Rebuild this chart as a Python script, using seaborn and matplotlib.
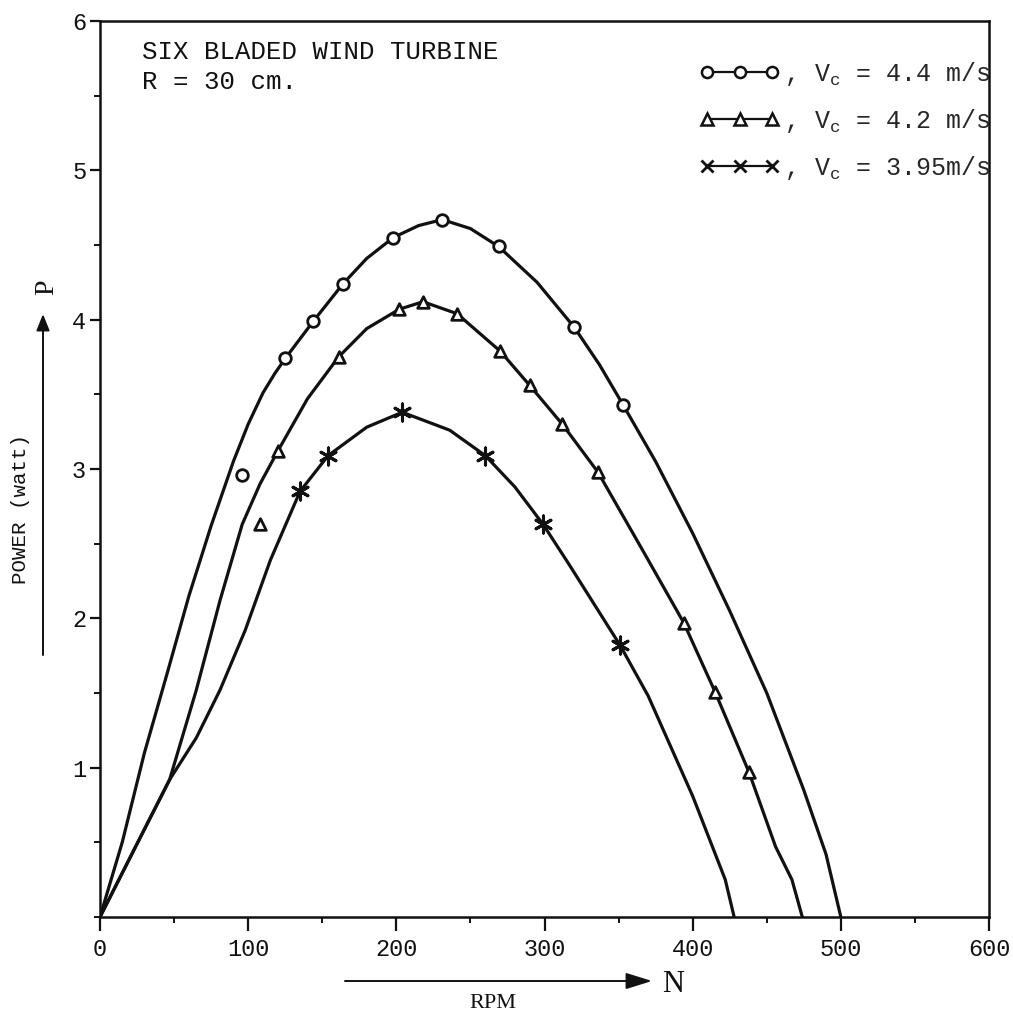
import matplotlib
matplotlib.use("Agg")
import matplotlib.pyplot as plt
from matplotlib.lines import Line2D
from matplotlib.patches import FancyArrowPatch
from matplotlib.ticker import MultipleLocator
import seaborn as sns

# ---- measured power curves (N in rpm, P in watt) ----
# V = 4.4 m/s
n_44_curve = [0, 15, 30, 45, 60, 75, 90, 100, 110, 118, 125, 144, 164, 180, 198, 215, 231,
              250, 269, 295, 320, 337, 353, 375, 400, 425, 450, 475, 490, 500]
p_44_curve = [0, 0.50, 1.10, 1.62, 2.15, 2.62, 3.05, 3.30, 3.51, 3.64, 3.74, 3.99, 4.24,
              4.41, 4.55, 4.63, 4.67, 4.61, 4.49, 4.25, 3.95, 3.70, 3.43, 3.05, 2.57,
              2.05, 1.50, 0.85, 0.42, 0]
n_44_pts = [96, 125, 144, 164, 198, 231, 269, 320, 353]
p_44_pts = [2.96, 3.74, 3.99, 4.24, 4.55, 4.67, 4.49, 3.95, 3.43]

# V = 4.2 m/s
n_42_curve = [0, 25, 47, 65, 81, 96, 108, 120, 140, 161, 180, 202, 218, 241, 270, 290,
              312, 336, 366, 394, 415, 438, 456, 467, 474]
p_42_curve = [0, 0.49, 0.92, 1.52, 2.12, 2.63, 2.90, 3.12, 3.47, 3.75, 3.94, 4.07, 4.12,
              4.04, 3.79, 3.56, 3.30, 2.98, 2.46, 1.97, 1.51, 0.97, 0.47, 0.25, 0]
n_42_pts = [108, 120, 161, 202, 218, 241, 270, 290, 312, 336, 394, 415, 438]
p_42_pts = [2.63, 3.12, 3.75, 4.07, 4.12, 4.04, 3.79, 3.56, 3.30, 2.98, 1.97, 1.51, 0.97]

# V = 3.95 m/s
n_395_curve = [0, 25, 47, 65, 81, 98, 115, 135, 154, 180, 204, 236, 260, 280, 299, 316,
               351, 370, 400, 422, 428]
p_395_curve = [0, 0.49, 0.92, 1.20, 1.52, 1.92, 2.39, 2.85, 3.09, 3.28, 3.38, 3.26, 3.09,
               2.88, 2.63, 2.37, 1.82, 1.48, 0.81, 0.25, 0]
n_395_pts = [135, 154, 204, 260, 299, 351]
p_395_pts = [2.85, 3.09, 3.38, 3.09, 2.63, 1.82]

legend_labels = [", V$_c$ = 4.4 m/s", ", V$_c$ = 4.2 m/s", ", V$_c$ = 3.95m/s"]
x_ticks = [0, 100, 200, 300, 400, 500, 600]
y_ticks = [1, 2, 3, 4, 5, 6]

sns.set_style("ticks")
MONO = ["Liberation Mono", "DejaVu Sans Mono"]
SERIF = ["Liberation Serif", "DejaVu Serif"]
plt.rcParams["font.family"] = MONO
plt.rcParams["mathtext.default"] = "regular"

W, H = 1013, 1016
fig = plt.figure(figsize=(W / 100, H / 100), dpi=100)
ax = fig.add_axes([100 / W, 1 - 917 / H, 889 / W, 896 / H])

INK = "#111111"
curves = [(n_44_curve, p_44_curve), (n_42_curve, p_42_curve), (n_395_curve, p_395_curve)]
for n, p in curves:
    sns.lineplot(x=n, y=p, ax=ax, color=INK, lw=2.3, sort=False, estimator=None, zorder=2)

star = (6, 2, 0)
sns.scatterplot(x=n_44_pts, y=p_44_pts, ax=ax, marker="o", s=70, facecolor="white",
                edgecolor=INK, linewidth=2.0, zorder=3)
sns.scatterplot(x=n_42_pts, y=p_42_pts, ax=ax, marker="^", s=70, facecolor="white",
                edgecolor=INK, linewidth=2.0, zorder=3)
sns.scatterplot(x=n_395_pts, y=p_395_pts, ax=ax, marker=star, s=150,
                color=INK, linewidth=2.2, zorder=3)

ax.set_xlim(0, 600)
ax.set_ylim(0, 6)
ax.set_xticks(x_ticks)
ax.set_yticks(y_ticks)
ax.xaxis.set_minor_locator(MultipleLocator(50))
ax.yaxis.set_minor_locator(MultipleLocator(0.5))
ax.set_xticklabels([str(v) for v in x_ticks])
ax.set_yticklabels([str(v) for v in y_ticks])
for s in ax.spines.values():
    s.set_visible(True)
    s.set_linewidth(1.8)
    s.set_color(INK)
ax.tick_params(axis="x", which="major", direction="out", length=10, width=1.6,
               pad=5, labelsize=17, colors=INK)
ax.tick_params(axis="x", which="minor", direction="out", length=4, width=1.4, colors=INK)
ax.tick_params(axis="y", which="major", direction="out", length=7, width=1.6,
               pad=3, labelsize=17, colors=INK)
ax.tick_params(axis="y", which="minor", direction="out", length=4, width=1.4, colors=INK)
ax.set_xlabel("")
ax.set_ylabel("")

# annotation block
fig.text(142 / W, 1 - 52 / H, "SIX BLADED WIND TURBINE", fontsize=18.5,
         va="center", ha="left", color=INK)
fig.text(142 / W, 1 - 82 / H, "R = 30 cm.", fontsize=18.5, va="center", ha="left",
         color=INK)

# legend
handles = [
    Line2D([], [], color=INK, lw=1.6, marker="o", ms=8, mfc="white", mec=INK, mew=1.8),
    Line2D([], [], color=INK, lw=1.6, marker="^", ms=8, mfc="white", mec=INK, mew=1.8),
    Line2D([], [], color=INK, lw=1.6, marker="x", ms=9, mec=INK, mew=2.0),
]
ax.legend(handles, legend_labels, loc="upper right", frameon=False, numpoints=3,
          bbox_to_anchor=(990 / W, 1 - 60 / H), bbox_transform=fig.transFigure,
          borderaxespad=0, borderpad=0, handlelength=3.2, handletextpad=0.15,
          labelspacing=0.75, prop={"family": MONO, "size": 18})

# axis captions with arrows
fig.text(20 / W, 1 - 509 / H, "POWER (watt)", rotation=90, fontsize=15,
         va="center", ha="center", color=INK)
fig.add_artist(FancyArrowPatch(
    (43 / W, 1 - 655 / H), (43 / W, 1 - 314 / H), transform=fig.transFigure,
    arrowstyle="-|>,head_length=10,head_width=4", lw=1.4, color=INK,
    mutation_scale=1, shrinkA=0, shrinkB=0))
fig.text(47 / W, 1 - 287 / H, "P", rotation=90, fontsize=20, family=SERIF,
         va="center", ha="center", color=INK)

fig.add_artist(FancyArrowPatch(
    (345 / W, 1 - 981 / H), (652 / W, 1 - 981 / H), transform=fig.transFigure,
    arrowstyle="-|>,head_length=16,head_width=5", lw=1.4, color=INK,
    mutation_scale=1, shrinkA=0, shrinkB=0))
fig.text(673 / W, 1 - 985 / H, "N", fontsize=22, family=SERIF,
         va="center", ha="center", color=INK)
fig.text(493 / W, 1 - 1003 / H, "RPM", fontsize=16, family=SERIF,
         va="center", ha="center", color=INK)

fig.savefig("out.png", dpi=100, facecolor="white")
